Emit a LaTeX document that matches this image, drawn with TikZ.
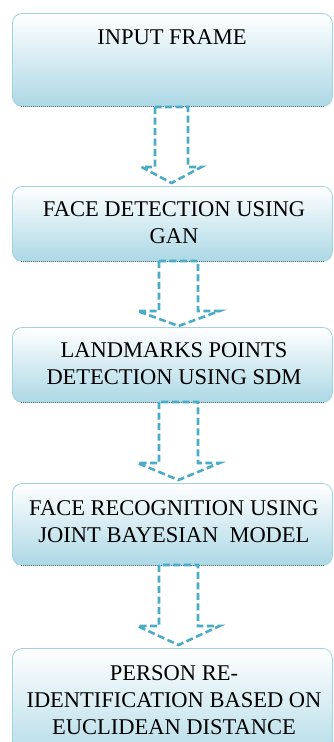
\documentclass[tikz,border=0pt]{standalone}
\usepackage{fontspec}
\setmainfont{Liberation Serif}
\newfontfamily\flowserif{Liberation Serif}
\begin{document}
\begin{tikzpicture}[x=1pt,y=-1pt,
  box/.style={draw={rgb,255:red,160;green,210;blue,225}, line width=0.8pt,
    rounded corners=10pt, top color=white,
    bottom color={rgb,255:red,172;green,216;blue,229},
    shading angle=0, minimum width=320pt, inner sep=0pt, anchor=north west},
  shadowline/.style={draw={rgb,255:red,110;green,110;blue,110}, densely dotted, line width=1pt},
  txt/.style={font=\flowserif\fontsize{22.5}{27}\selectfont, align=center, inner sep=0pt, text=black},
  barrow/.style={draw={rgb,255:red,75;green,172;blue,198}, line width=2.6pt,
    dash pattern=on 7pt off 3.5pt, line join=miter}
]
\clip (0,0) rectangle (334,742);
\fill[white] (0,0) rectangle (334,742);

\node[box, minimum height=93pt] (b1) at (12,13) {};
\node[box, minimum height=75pt] (b2) at (12,186) {};
\node[box, minimum height=75pt] (b3) at (12,327) {};
\node[box, minimum height=82pt] (b4) at (12,483) {};
\node[box, minimum height=120pt] (b5) at (12,648) {};

\foreach \b in {b1,b2,b3,b4}{
  \draw[shadowline] ([xshift=9pt]\b.south west) -- ([xshift=-9pt]\b.south east);
}

\node[txt] (t1) at (172,37) {INPUT FRAME};
\node[txt] (t2) at (174,222.5) {FACE DETECTION USING\\GAN};
\node[txt] (t3) at (174,364) {LANDMARKS POINTS\\DETECTION USING SDM};
\node[txt] (t4) at (174,522) {FACE RECOGNITION USING\\JOINT BAYESIAN\ \ MODEL};
\node[txt] (t5) at (174,700) {PERSON RE-\\IDENTIFICATION BASED ON\\EUCLIDEAN DISTANCE};

% block arrows (dashed outlines)
\coordinate (a1) at (171.5,107);
\draw[barrow] ([xshift=-16.5pt]a1) -- ++(0,60) -- ++(-13.5,0) -- (171.5,183) -- (201.5,167) -- (188,167) -- ([xshift=16.5pt]a1) -- cycle;
\coordinate (a2) at (178.5,261);
\draw[barrow] ([xshift=-19.5pt]a2) -- ++(0,50) -- ++(-21.5,0) -- (178.5,326) -- (219.5,311) -- (198,311) -- ([xshift=19.5pt]a2) -- cycle;
\coordinate (a3) at (178.5,402);
\draw[barrow] ([xshift=-19.5pt]a3) -- ++(0,61) -- ++(-21.5,0) -- (178.5,480) -- (219.5,463) -- (198,463) -- ([xshift=19.5pt]a3) -- cycle;
\coordinate (a4) at (178.5,565);
\draw[barrow] ([xshift=-19.5pt]a4) -- ++(0,61) -- ++(-21.5,0) -- (178.5,645) -- (219.5,626) -- (198,626) -- ([xshift=19.5pt]a4) -- cycle;
\end{tikzpicture}
\end{document}
